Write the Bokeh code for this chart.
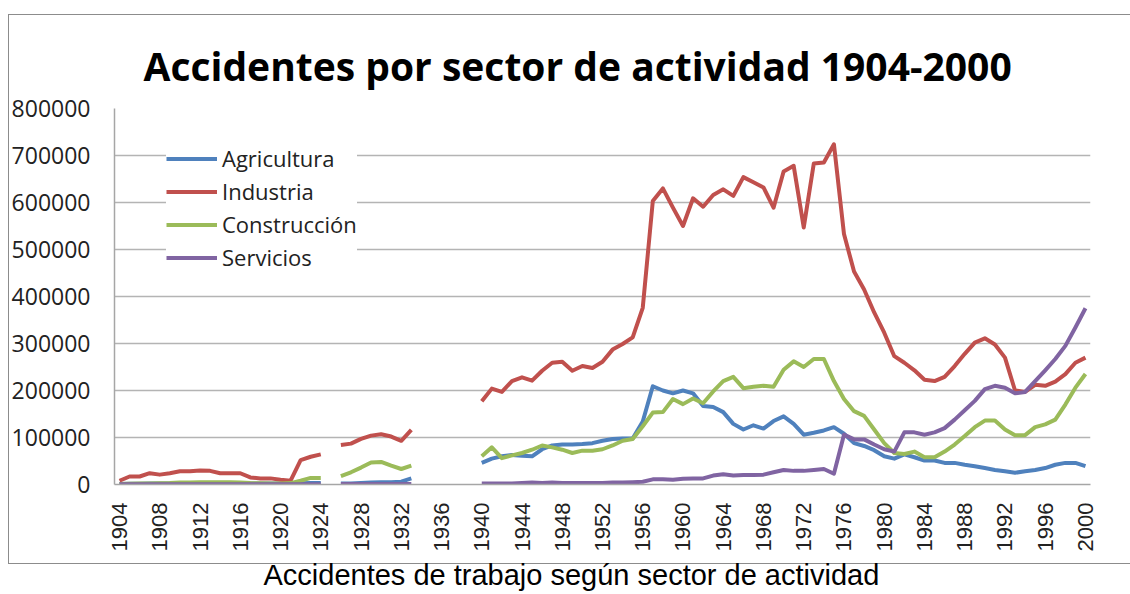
import numpy as np
from bokeh.plotting import figure
from bokeh.models import (ColumnDataSource, FixedTicker, Legend, LegendItem,
                          BasicTickFormatter, Range1d, Title)
from bokeh.embed import file_html
from bokeh.resources import INLINE

title_text = "Accidentes por sector de actividad 1904-2000"
caption_text = "Accidentes de trabajo según sector de actividad"

years = list(range(1904, 2001))
x_ticks = list(range(1904, 2001, 4))
y_ticks = [0, 100000, 200000, 300000, 400000, 500000, 600000, 700000, 800000]

N = None
UNIT = 1000  # values below are in thousands of accidents

# 1904-1924, 1925 (gap), 1926-1933, 1934-1939 (gap), 1940-2000
agricultura_k = (
    [1, 1.5, 1.5, 2, 2, 2, 2, 2.5, 2.5, 2.5, 2.5, 2.5, 2, 2, 2, 2, 2, 2, 2.5, 3, 3]
    + [N]
    + [2, 2, 3, 4, 5, 5, 6, 13]
    + [N, N, N, N, N, N]
    + [46, 55, 60, 63, 61, 60, 75, 83, 85, 85,
       86, 88, 93, 97, 98, 98, 134, 209, 200, 194,
       200, 194, 167, 165, 154, 129, 117, 126, 119, 135,
       145, 129, 106, 110, 115, 122, 108, 88, 82, 73,
       60, 55, 64, 58, 51, 51, 46, 46, 42, 39,
       35, 31, 28, 25, 28, 31, 35, 42, 46, 46,
       39]
)
industria_k = (
    [8, 17, 17, 24, 21, 24, 28, 28, 30, 29, 24, 24, 24, 15, 13, 13, 10, 8, 52, 59, 64]
    + [N]
    + [84, 87, 97, 104, 107, 102, 93, 116]
    + [N, N, N, N, N, N]
    + [177, 204, 197, 220, 228, 221, 242, 259, 261, 242,
       252, 248, 261, 287, 299, 313, 376, 603, 630, 589,
       550, 609, 591, 616, 628, 614, 654, 643, 632, 589,
       666, 678, 547, 683, 685, 724, 533, 453, 415, 366,
       323, 273, 259, 243, 223, 220, 229, 252, 278, 302,
       311, 298, 270, 200, 197, 212, 210, 219, 235, 259,
       270]
)
construccion_k = (
    [1, 1.5, 2, 2, 2.5, 3, 4, 4.5, 5, 5, 5, 5, 4.5, 3, 2.5, 2, 2, 3, 8, 14, 14]
    + [N]
    + [18, 26, 36, 47, 48, 40, 33, 40]
    + [N, N, N, N, N, N]
    + [60, 79, 56, 62, 67, 74, 83, 79, 74, 67,
       72, 72, 75, 83, 93, 97, 124, 153, 154, 182,
       171, 183, 173, 198, 220, 229, 205, 208, 210, 208,
       244, 262, 250, 267, 267, 220, 182, 156, 146, 117,
       88, 67, 65, 70, 58, 58, 70, 85, 103, 122,
       136, 136, 117, 105, 105, 122, 128, 138, 170, 206,
       235]
)
servicios_k = (
    [0.5, 0.5, 0.5, 0.5, 0.5, 0.5, 0.5, 0.5, 0.5, 0.5, 0.5, 0.5, 0.5, 0.5, 0.5, 0.5, 0.5, 0.5, 0.5, 0.5, 0.5]
    + [N]
    + [1, 1, 1, 1, 1, 1, 1, 1]
    + [N, N, N, N, N, N]
    + [2, 2, 2, 2, 3, 4, 3, 4, 3, 3,
       3, 3, 3, 4, 4, 5, 6, 11, 11, 10,
       12, 13, 13, 19, 22, 19, 20, 20, 21, 26,
       31, 29, 29, 31, 33, 23, 106, 96, 96, 85,
       75, 70, 111, 111, 106, 111, 120, 138, 158, 178,
       203, 210, 206, 194, 197, 220, 243, 267, 295, 334,
       375]
)

series_names = ["Agricultura", "Industria", "Construcción", "Servicios"]
series_values = [agricultura_k, industria_k, construccion_k, servicios_k]
colors = ["#4F81BD", "#C0504D", "#9BBB59", "#8064A2"]


def to_arr(vals):
    return np.array([np.nan if v is None else v * UNIT for v in vals], dtype=float)


data = {"year": np.array(years, dtype=float)}
keys = ["agr", "ind", "con", "ser"]
for k, vals in zip(keys, series_values):
    data[k] = to_arr(vals)
src = ColumnDataSource(data)

# thin grey chart-area border drawn behind the (transparent) canvas border area
g = "linear-gradient(#8c8c8c, #8c8c8c)"
border_css = {
    "background-color": "white",
    "background-image": f"{g}, {g}, {g}",
    "background-size": "1px 550px, 1122px 1px, 1122px 1px",
    "background-position": "8px 14px, 8px 14px, 8px 563px",
    "background-repeat": "no-repeat",
}

p = figure(width=1130, height=594, output_backend="svg", toolbar_location=None,
           x_range=Range1d(1903.5, 2000.5), y_range=Range1d(0, 800000),
           min_border_left=114, min_border_right=40, min_border_top=108,
           min_border_bottom=110, styles=border_css)
p.outline_line_color = None
p.background_fill_color = "white"
p.border_fill_color = None

p.title.text = title_text
p.title.align = "left"
p.title.offset = 29
p.title.text_font = "Open Sans"
p.title.text_font_style = "bold"
p.title.text_font_size = "39px"
p.title.text_color = "black"
p.title.standoff = 33

caption = Title(text=caption_text, align="left", offset=149,
                text_font="Liberation Sans", text_font_style="normal",
                text_font_size="29px", text_color="black", standoff=5)
p.add_layout(caption, "below")

p.xgrid.grid_line_color = None
p.ygrid.grid_line_color = "#b4b4b4"
p.ygrid.grid_line_width = 1.5

p.yaxis.ticker = FixedTicker(ticks=y_ticks)
p.yaxis.formatter = BasicTickFormatter(use_scientific=False)
p.yaxis.axis_line_color = "#a6a6a6"
p.yaxis.axis_line_width = 1.5
p.yaxis.major_tick_line_color = None
p.yaxis.minor_tick_line_color = None
p.yaxis.major_label_standoff = 18
p.yaxis.major_label_text_font = "Open Sans"
p.yaxis.major_label_text_font_size = "23px"
p.yaxis.major_label_text_color = "#222222"

p.xaxis.ticker = FixedTicker(ticks=x_ticks)
p.xaxis.major_label_orientation = np.pi / 2
p.xaxis.axis_line_color = "#a6a6a6"
p.xaxis.axis_line_width = 1.5
p.xaxis.major_tick_line_color = None
p.xaxis.minor_tick_line_color = None
p.xaxis.major_label_standoff = 12
p.xaxis.major_label_text_font = "Liberation Sans"
p.xaxis.major_label_text_font_size = "22px"
p.xaxis.major_label_text_color = "#222222"

renderers = []
for k, c in zip(keys, colors):
    r = p.line(x="year", y=k, source=src, line_color=c, line_width=4, line_join="round")
    renderers.append(r)

legend = Legend(items=[LegendItem(label=n, renderers=[r]) for n, r in zip(series_names, renderers)],
                location=(52, 212), orientation="vertical",
                label_text_font="Open Sans", label_text_font_size="22px",
                label_text_color="#222222",
                glyph_width=51, glyph_height=25, label_height=25, spacing=3,
                padding=8, label_standoff=5, border_line_color=None,
                background_fill_color="white", background_fill_alpha=1.0)
p.add_layout(legend)

open("out.html", "w").write(file_html(p, INLINE))
